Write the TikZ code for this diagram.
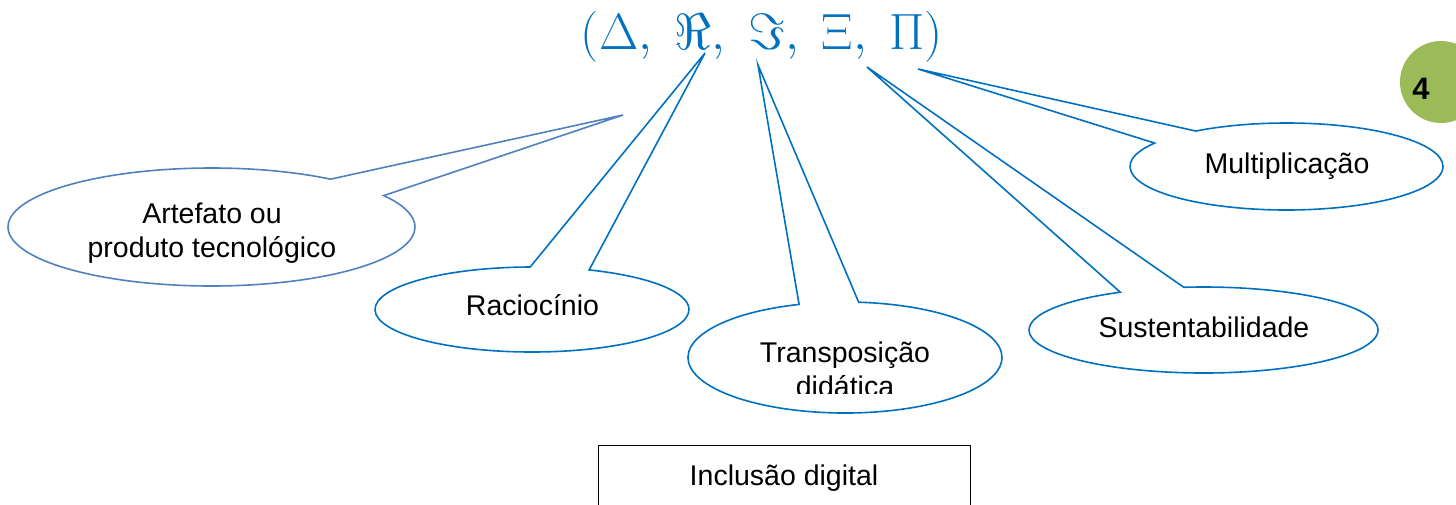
\documentclass[tikz,border=0pt]{standalone}
\usepackage[no-math]{fontspec}
\setmainfont{Liberation Sans}
\usetikzlibrary{shapes.callouts,shapes.geometric}
\definecolor{calloutblue}{HTML}{0070C0}
\definecolor{softblue}{HTML}{4F81BD}
\definecolor{badgegreen}{HTML}{9BBB59}
\tikzset{
  bubble/.style={ellipse callout, draw=calloutblue, line width=1.6pt, inner sep=0pt, callout pointer arc=22},
  lbl/.style={font=\fontsize{28.5}{34}\selectfont, inner sep=0pt, anchor=base, text=black},
}
\begin{document}
\begin{tikzpicture}[x=1pt,y=-1pt]
\useasboundingbox (0,0) rectangle (1456,504);
\clip (0,0) rectangle (1456,504);

% title
\node[text=calloutblue, font=\fontsize{24.88}{30}\selectfont, inner sep=0pt, transform shape, scale=2.05] (title) at (762,37)
  {$(\Delta,\ \Re,\ \Im,\ \Xi,\ \Pi)$};

% pointer tips
\coordinate (tipA) at (623,115);
\coordinate (tipR) at (705,53);
\coordinate (tipT) at (758,65);
\coordinate (tipS) at (867,67);
\coordinate (tipM) at (918,69);

% callouts
\node[bubble, draw=softblue, minimum width=407pt, minimum height=118pt, callout absolute pointer={(tipA)}] (artefato) at (211.5,227) {};
\node[bubble, minimum width=314pt, minimum height=85pt, callout absolute pointer={(tipR)}] (raciocinio) at (532,309.5) {};
\node[bubble, minimum width=314pt, minimum height=111pt, callout absolute pointer={(tipT)}] (transp) at (845,357.5) {};
\node[bubble, minimum width=349pt, minimum height=86pt, callout absolute pointer={(tipS)}] (sustent) at (1203.5,330) {};
\node[bubble, minimum width=313pt, minimum height=87pt, callout absolute pointer={(tipM)}] (multip) at (1286.5,166.5) {};

% texts
\node[lbl] (tArt1) at (212,223) {Artefato ou};
\node[lbl] (tArt2) at (212,257) {produto tecnológico};
\node[lbl] (tRac) at (532.5,315) {Raciocínio};
\begin{scope}
  \clip (680,300) rectangle (1010,393);
  \node[lbl] (tTr1) at (845,362) {Transposição};
  \node[lbl] (tTr2) at (845,396) {didática};
\end{scope}
\node[lbl] (tSus) at (1204,337) {Sustentabilidade};
\node[lbl] (tMul) at (1287,173) {Multiplicação};

% bottom box
\node[draw=black, line width=1.3pt, minimum width=372pt, minimum height=100pt, anchor=north west, inner sep=0pt] (incbox) at (598,445) {};
\node[lbl] (tInc) at (784,485) {Inclusão digital};

% page badge
\node[circle, fill=badgegreen, minimum size=82pt, inner sep=0pt] (badge) at (1441,82) {};
\node[lbl, font=\bfseries\fontsize{31}{34}\selectfont] (num) at (1421,99) {4};
\end{tikzpicture}
\end{document}
